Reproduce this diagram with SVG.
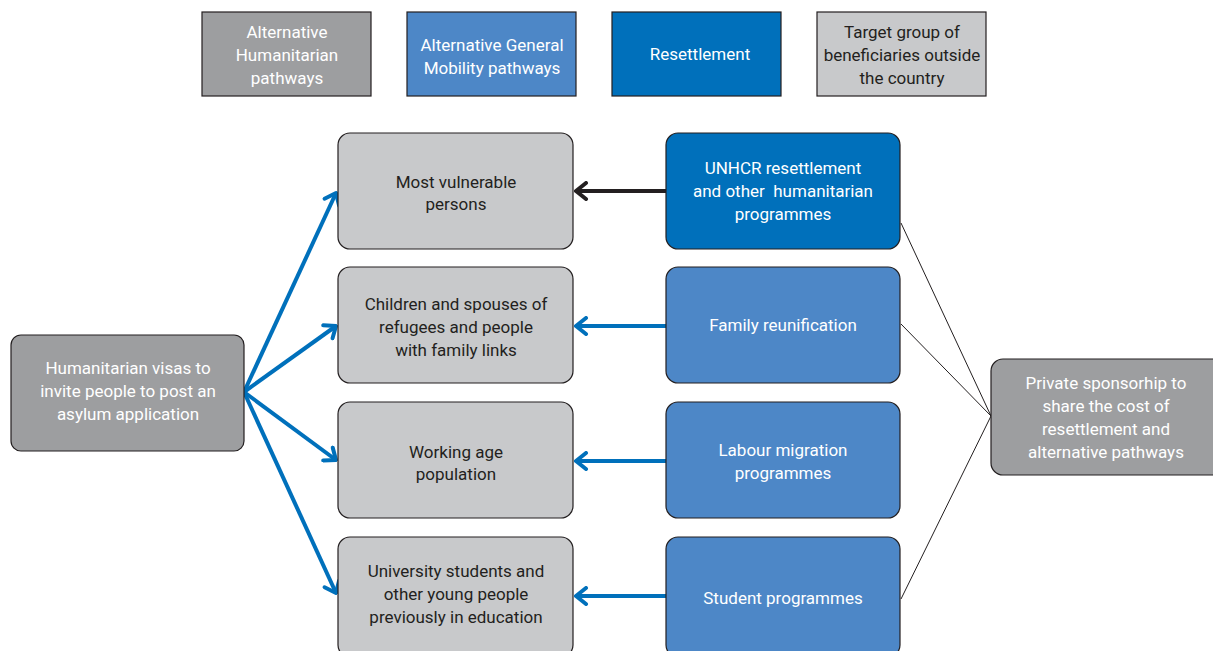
<svg xmlns="http://www.w3.org/2000/svg" width="1213" height="651" viewBox="0 0 1213 651">
<style>
text{font-family:Roboto,"Liberation Sans",sans-serif;font-size:17px;text-anchor:middle}
.w{fill:#ffffff}
.d{fill:#231f20}
.g{fill:#9d9ea0;stroke:#231f20;stroke-width:1.2}
.lg{fill:#c8c9cb;stroke:#231f20;stroke-width:1.2}
.lb{fill:#4d87c7;stroke:#231f20;stroke-width:1.2}
.db{fill:#0070bb;stroke:#231f20;stroke-width:1.2}
.ba{stroke:#0070bb;stroke-width:4;fill:none}
.ka{stroke:#231f20;stroke-width:4;fill:none}
.thin{stroke:#231f20;stroke-width:1;fill:none}
</style>
<defs>
<marker id="mb" viewBox="-14 -10 16 20" markerWidth="16" markerHeight="20" refX="0" refY="0" orient="auto" markerUnits="userSpaceOnUse">
<path d="M -10 -8 L 0 0 L -10 8" fill="none" stroke="#0070bb" stroke-width="4" stroke-linecap="round" stroke-linejoin="round"/>
</marker>
<marker id="mk" viewBox="-14 -10 16 20" markerWidth="16" markerHeight="20" refX="0" refY="0" orient="auto" markerUnits="userSpaceOnUse">
<path d="M -10 -8 L 0 0 L -10 8" fill="none" stroke="#231f20" stroke-width="4" stroke-linecap="round" stroke-linejoin="round"/>
</marker>
</defs>
<g id="legend">
<g id="leg1"><rect class="g" x="202" y="12" width="169" height="84"/><text class="w" x="287" y="38">Alternative</text><text class="w" x="287" y="61">Humanitarian</text><text class="w" x="287" y="84">pathways</text></g>
<g id="leg2"><rect class="lb" x="407" y="12" width="169" height="84"/><text class="w" x="492" y="51">Alternative General</text><text class="w" x="492" y="74">Mobility pathways</text></g>
<g id="leg3"><rect class="db" x="612" y="12" width="169" height="84"/><text class="w" x="700" y="60">Resettlement</text></g>
<g id="leg4"><rect class="lg" x="817" y="12" width="169" height="84"/><text class="d" x="902" y="38">Target group of</text><text class="d" x="902" y="61">beneficiaries outside</text><text class="d" x="902" y="84">the country</text></g>
</g>
<g id="connectors">
<line class="ba" x1="244" y1="392" x2="336" y2="193" marker-end="url(#mb)"/>
<line class="ba" x1="244" y1="392" x2="336" y2="326" marker-end="url(#mb)"/>
<line class="ba" x1="244" y1="392" x2="336" y2="460" marker-end="url(#mb)"/>
<line class="ba" x1="244" y1="392" x2="336" y2="593" marker-end="url(#mb)"/>
<line class="ka" x1="666" y1="191" x2="576" y2="191" marker-end="url(#mk)"/>
<line class="ba" x1="666" y1="326" x2="576" y2="326" marker-end="url(#mb)"/>
<line class="ba" x1="666" y1="461" x2="576" y2="461" marker-end="url(#mb)"/>
<line class="ba" x1="666" y1="596" x2="576" y2="596" marker-end="url(#mb)"/>
<line class="thin" x1="901" y1="223" x2="991" y2="416"/>
<line class="thin" x1="901" y1="324" x2="991" y2="416"/>
<line class="thin" x1="901" y1="599" x2="991" y2="416"/>
</g>
<g id="n-visas"><rect class="g" x="11" y="335" width="233" height="116" rx="10"/><text class="w" x="128" y="374">Humanitarian visas to</text><text class="w" x="128" y="397">invite people to post an</text><text class="w" x="128" y="420">asylum application</text></g>
<g id="n-vulnerable"><rect class="lg" x="338" y="133" width="235" height="116" rx="12"/><text class="d" x="456" y="188">Most vulnerable</text><text class="d" x="456" y="210">persons</text></g>
<g id="n-children"><rect class="lg" x="338" y="267" width="235" height="116" rx="12"/><text class="d" x="456" y="310">Children and spouses of</text><text class="d" x="456" y="333">refugees and people</text><text class="d" x="456" y="356">with family links</text></g>
<g id="n-working"><rect class="lg" x="338" y="402" width="235" height="116" rx="12"/><text class="d" x="456" y="458">Working age</text><text class="d" x="456" y="480">population</text></g>
<g id="n-university"><rect class="lg" x="338" y="537" width="235" height="120" rx="12"/><text class="d" x="456" y="577">University students and</text><text class="d" x="456" y="600">other young people</text><text class="d" x="456" y="623">previously in education</text></g>
<g id="n-unhcr"><rect class="db" x="666" y="133" width="234" height="116" rx="12"/><text class="w" x="783" y="174">UNHCR resettlement</text><text class="w" x="783" y="197" style="white-space:pre">and other  humanitarian</text><text class="w" x="783" y="220">programmes</text></g>
<g id="n-family"><rect class="lb" x="666" y="267" width="234" height="116" rx="12"/><text class="w" x="783" y="331">Family reunification</text></g>
<g id="n-labour"><rect class="lb" x="666" y="402" width="234" height="116" rx="12"/><text class="w" x="783" y="456">Labour migration</text><text class="w" x="783" y="479">programmes</text></g>
<g id="n-student"><rect class="lb" x="666" y="537" width="234" height="120" rx="12"/><text class="w" x="783" y="604">Student programmes</text></g>
<g id="n-private"><rect class="g" x="991" y="359" width="240" height="116" rx="12"/><text class="w" x="1106" y="389">Private sponsorhip to</text><text class="w" x="1106" y="412">share the cost of</text><text class="w" x="1106" y="435">resettlement and</text><text class="w" x="1106" y="458">alternative pathways</text></g>
</svg>
